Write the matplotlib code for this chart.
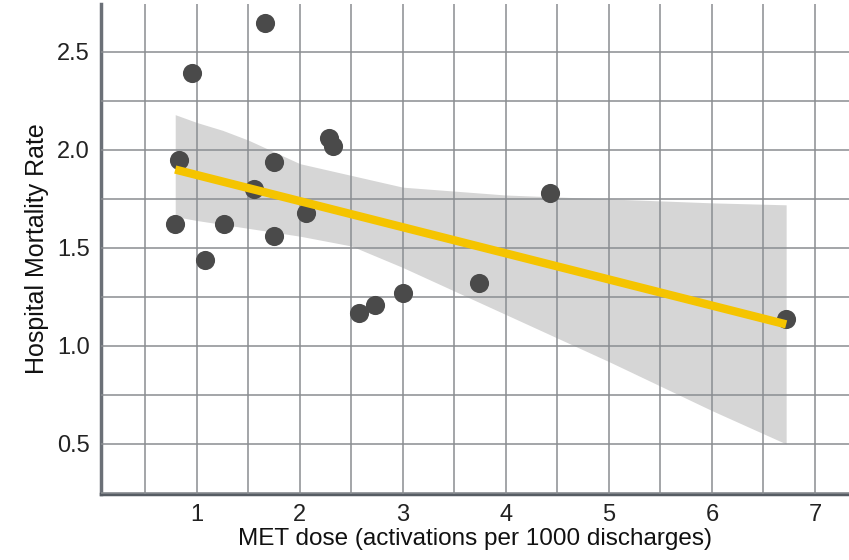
import matplotlib.pyplot as plt
from matplotlib.ticker import MultipleLocator

plt.rcParams["font.family"] = ["Liberation Sans", "DejaVu Sans"]

# MET dose vs hospital mortality, one point per hospital
met_dose = [0.79, 0.83, 0.95, 1.08, 1.26, 1.55, 1.66, 1.75, 1.75, 2.06,
            2.28, 2.32, 2.57, 2.73, 3.00, 3.74, 4.43, 6.72]
mortality = [1.62, 1.95, 2.39, 1.44, 1.62, 1.80, 2.65, 1.94, 1.56, 1.68,
             2.06, 2.02, 1.17, 1.21, 1.27, 1.32, 1.78, 1.14]

# fitted line end points
fit_x = [0.79, 6.72]
fit_y = [1.90, 1.11]

# confidence band
band_x = [0.79, 1.0, 1.25, 1.5, 2.0, 2.5, 3.0, 3.5, 4.0, 4.5, 5.0, 6.0, 6.72]
band_hi = [2.18, 2.14, 2.10, 2.05, 1.93, 1.87, 1.81, 1.79, 1.77, 1.76, 1.75,
           1.73, 1.72]
band_lo = [1.66, 1.64, 1.62, 1.60, 1.56, 1.51, 1.40, 1.28, 1.16, 1.04, 0.92,
           0.67, 0.50]

fig = plt.figure(figsize=(8.49, 5.6), dpi=100)
ax = fig.add_axes([0.119, 0.118, 0.881, 0.875])

ax.fill_between(band_x, band_lo, band_hi, color="#d6d6d6", lw=0, zorder=1)
ax.plot(fit_x, fit_y, color="#f5c400", lw=6, solid_capstyle="butt", zorder=4)
ax.scatter(met_dose, mortality, s=190, color="#4a4a4a", lw=0, zorder=3)

ax.set_xlim(0.07, 7.33)
ax.set_ylim(0.245, 2.745)
ax.xaxis.set_minor_locator(MultipleLocator(0.5))
ax.yaxis.set_minor_locator(MultipleLocator(0.25))
ax.set_xticks([1, 2, 3, 4, 5, 6, 7])
ax.set_yticks([0.5, 1.0, 1.5, 2.0, 2.5])
ax.grid(True, which="both", color="#8a8d91", lw=1.1, zorder=2)
ax.set_axisbelow(False)
ax.tick_params(which="both", length=0, labelsize=17, colors="#222222")
ax.tick_params(axis="x", pad=7)
ax.tick_params(axis="y", pad=8)

for side in ["top", "right"]:
    ax.spines[side].set_visible(False)
ax.spines["left"].set_color("#6b7077")
ax.spines["left"].set_linewidth(2.5)
ax.spines["bottom"].set_color("#565c63")
ax.spines["bottom"].set_linewidth(2.5)

ax.set_xlabel("MET dose (activations per 1000 discharges)", fontsize=17.5,
              color="#111111", labelpad=2)
ax.set_ylabel("Hospital Mortality Rate", fontsize=18, color="#111111",
              labelpad=6)

fig.savefig("out.png", dpi=100)
